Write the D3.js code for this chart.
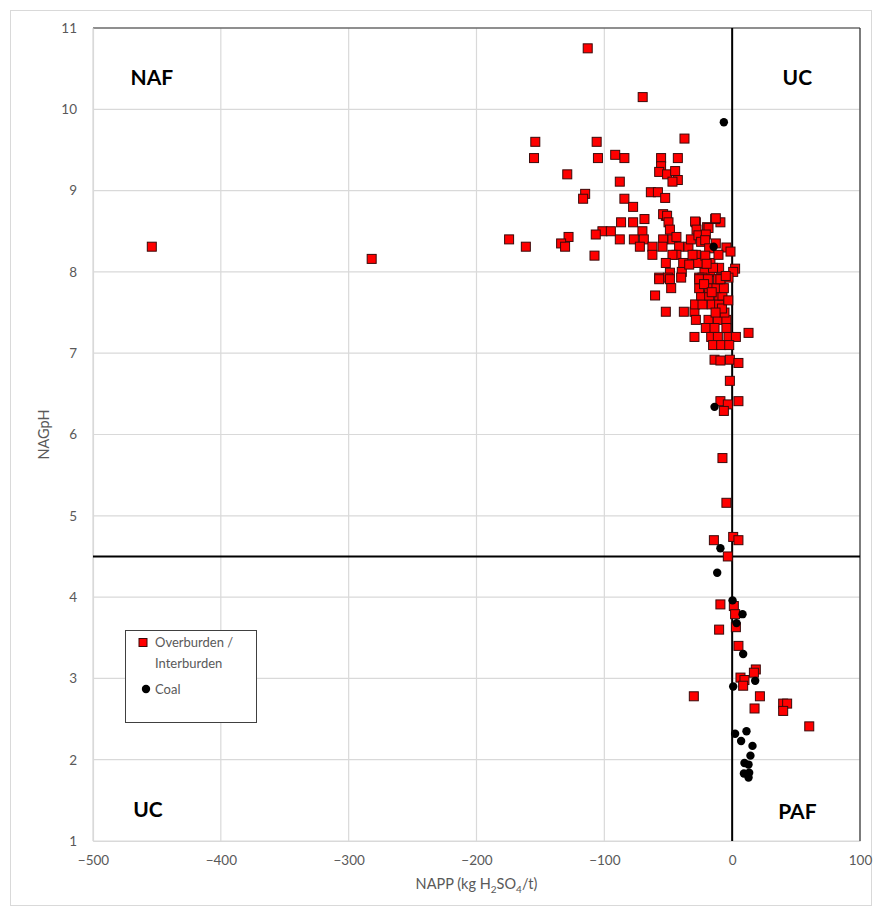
<!DOCTYPE html>
<html>
<head>
<meta charset="utf-8">
<script src="https://cdn.jsdelivr.net/npm/d3@7"></script>
<style>
  html, body { margin: 0; padding: 0; background: #fff; }
  svg { display: block; font-family: Lato, "Open Sans", sans-serif; }
</style>
</head>
<body>
<svg id="chart" width="882" height="916"></svg>
<script>
// ---- Data ----
const xTicks = [-500, -400, -300, -200, -100, 0, 100];
const yTicks = [1, 2, 3, 4, 5, 6, 7, 8, 9, 10, 11];
const seriesNames = ["Overburden /", "Interburden", "Coal"];
const quadrantLabels = ["NAF", "UC", "UC", "PAF"];

// Overburden / Interburden: NAPP (kg H2SO4/t)
const obNapp = [
  -454, -282, -113, -70,
  -154, -155, -106, -105, -91.5, -84.3, -37.3,
  -129, -87.9, -55.6, -42.5, -55.6, -57.1, -50.9, -44.6, -42.5, -46.7,
  -115, -116.6, -63.6, -58.1, -52.4, -84.3, -77.5,
  -68.6, -86.9, -77.5, -51.9,
  -70.2, -69.1, -76.9, -87.9, -72.2,
  -101.5, -94.9, -106.7, -128, -133.8, -130.7, -107.7,
  -174.5, -161.4,
  -28.4, -19.6, -9.2, -13.3,
  -62.4, -62.4, -54, -54.5, -54, -50.9, -49.8, -48.7,
  -46.7, -43.6, -41.5, -43.6, -46.7, -51.9, -48.7, -39.4, -38.3,
  -34.2, -32.3, -29, -27.9, -26.4, -24.3, -28.4, -26.8, -31,
  -18.5, -20.6, -21.1, -12.8, -12.8, -18, -17,
  -4.5, -1.3, -10.7, -10.2, -17, -21.7, 2.3, 0.8,
  -57.1, -50.3, -39.9, -25.8, -23.2, -8.6, -2.9, -33.6,
  -57.1, -48.7, -47.7, -60.3, -51.9, -37.8, -29.5, -28.4, -29.5,
  -29, -23.2, -15.9, -10.2,
  -24.3, -18, -10.2, -7.6,
  -25.8, -18, -12.3, -6.5,
  -25.8, -19, -11.2, -9.2,
  -18.5, -11.2, -4.5,
  -20.6, -13.8, -4.5,
  -16.4, -11.2, -2.9, 2.9,
  -14.9, -8.6, -2.3,
  -13.8, -1.8, 4.9, -9.2,
  12.8,
  -21, -15, -6, -8, -13, -22, -16, -20, -5, -3,
  -1.8, -9.2, -3.4, -6.5, 4.9,
  -7.6, -4.5, -14.3, 0.8, 4.9, -3.4,
  -9.2, 1.3, 2.3, 2.9, -10.2, 4.9,
  18.5, 17, 6.5, 9.6, 8.6, -30, 21.7, 39.9, 43, 39.9, 17.5, 60.3
];
// Overburden / Interburden: NAGpH
const obNag = [
  8.31, 8.16, 10.75, 10.15,
  9.60, 9.40, 9.60, 9.40, 9.44, 9.40, 9.64,
  9.20, 9.11, 9.40, 9.40, 9.30, 9.23, 9.20, 9.24, 9.13, 9.11,
  8.96, 8.90, 8.98, 8.98, 8.91, 8.90, 8.80,
  8.65, 8.61, 8.61, 8.69,
  8.50, 8.40, 8.40, 8.40, 8.31,
  8.50, 8.50, 8.46, 8.43, 8.35, 8.31, 8.20,
  8.40, 8.31,
  8.61, 8.55, 8.61, 8.65,
  8.31, 8.21, 8.40, 8.31, 8.71, 8.69, 8.61, 8.52,
  8.40, 8.43, 8.31, 8.21, 8.21, 8.11, 7.99, 8.00, 8.11,
  8.31, 8.40, 8.62, 8.52, 8.45, 8.37, 8.21, 8.11, 8.21,
  8.54, 8.46, 8.39, 8.66, 8.35, 8.29, 8.11,
  8.30, 8.25, 8.21, 8.05, 8.00, 7.99, 8.04, 8.00,
  7.93, 7.93, 7.93, 7.93, 7.93, 7.93, 7.93, 8.09,
  7.91, 7.91, 7.80, 7.71, 7.51, 7.51, 7.51, 7.41, 7.20,
  7.60, 7.60, 7.60, 7.60,
  7.71, 7.71, 7.71, 7.71,
  7.80, 7.80, 7.80, 7.80,
  7.91, 7.91, 7.91, 7.91,
  7.41, 7.41, 7.41,
  7.31, 7.31, 7.31,
  7.20, 7.20, 7.20, 7.20,
  7.10, 7.10, 7.10,
  6.92, 6.92, 6.88, 6.91,
  7.25,
  8.20, 8.05, 7.50, 7.55, 7.50, 7.85, 7.75, 8.10, 7.95, 7.65,
  6.66, 6.41, 6.37, 6.29, 6.41,
  5.71, 5.16, 4.70, 4.74, 4.70, 4.50,
  3.91, 3.89, 3.79, 3.63, 3.60, 3.40,
  3.11, 3.07, 3.01, 2.98, 2.91, 2.78, 2.78, 2.69, 2.69, 2.60, 2.63, 2.41
];

// Coal
const coalNapp = [-6.5, -14.5, -13.8, -9.2, -11.7, 0.3, 8.1, 3.4, 8.6, 18, 0.8,
  2.3, 11.2, 7, 15.9, 14.3, 9.6, 12.8, 9.2, 13.3, 12.8];
const coalNag = [9.84, 8.31, 6.34, 4.60, 4.30, 3.96, 3.79, 3.68, 3.30, 2.97, 2.90,
  2.32, 2.35, 2.23, 2.17, 2.05, 1.96, 1.94, 1.83, 1.84, 1.78];

const nagThreshold = 4.5;
const nappThreshold = 0;

// ---- Layout ----
const svg = d3.select("#chart");
const W = 882, H = 916;
const plot = { left: 93, right: 860, top: 28, bottom: 841 };

const x = d3.scaleLinear().domain([-500, 100]).range([plot.left, plot.right]);
const y = d3.scaleLinear().domain([1, 11]).range([plot.bottom, plot.top]);

// outer chart border
svg.append("rect")
  .attr("x", 10.5).attr("y", 10.5).attr("width", W - 21).attr("height", H - 21)
  .attr("fill", "#fff").attr("stroke", "#d9d9d9");

// gridlines
const grid = svg.append("g");
grid.selectAll("line.gx").data(xTicks).join("line")
  .attr("x1", d => x(d)).attr("x2", d => x(d))
  .attr("y1", plot.top).attr("y2", plot.bottom)
  .attr("stroke", "#d9d9d9").attr("stroke-width", 1.2);
grid.selectAll("line.gy").data(yTicks).join("line")
  .attr("y1", d => y(d)).attr("y2", d => y(d))
  .attr("x1", plot.left).attr("x2", plot.right)
  .attr("stroke", "#d9d9d9").attr("stroke-width", 1.2);

// plot frame: top & right dark
svg.append("line").attr("x1", plot.left).attr("x2", plot.right)
  .attr("y1", plot.top).attr("y2", plot.top).attr("stroke", "#333").attr("stroke-width", 1.2);
svg.append("line").attr("x1", plot.right).attr("x2", plot.right)
  .attr("y1", plot.top).attr("y2", plot.bottom).attr("stroke", "#333").attr("stroke-width", 1.2);

// axes (labels only)
const xAxis = svg.append("g")
  .attr("transform", `translate(0,${plot.bottom})`)
  .call(d3.axisBottom(x).tickValues(xTicks).tickSize(0).tickPadding(14).tickFormat(d3.format("d")));
const yAxis = svg.append("g")
  .attr("transform", `translate(${plot.left},0)`)
  .call(d3.axisLeft(y).tickValues(yTicks).tickSize(0).tickPadding(16).tickFormat(d3.format("d")));
[xAxis, yAxis].forEach(a => {
  a.select(".domain").attr("stroke", "#d9d9d9").attr("stroke-width", 1.2);
  a.selectAll("text").attr("fill", "#595959").attr("font-size", 13.5)
    .attr("font-family", "Lato, 'Open Sans', sans-serif");
});

// threshold lines
svg.append("line")
  .attr("x1", x(nappThreshold)).attr("x2", x(nappThreshold))
  .attr("y1", plot.top).attr("y2", plot.bottom)
  .attr("stroke", "#000").attr("stroke-width", 2);
svg.append("line")
  .attr("x1", plot.left).attr("x2", plot.right)
  .attr("y1", y(nagThreshold)).attr("y2", y(nagThreshold))
  .attr("stroke", "#000").attr("stroke-width", 2);

// quadrant labels
const ql = [
  { t: quadrantLabels[0], xv: -454, yv: 10.40 },
  { t: quadrantLabels[1], xv: 51, yv: 10.40 },
  { t: quadrantLabels[2], xv: -457, yv: 1.4 },
  { t: quadrantLabels[3], xv: 51, yv: 1.38 }
];
svg.selectAll("text.ql").data(ql).join("text")
  .attr("class", "ql")
  .attr("x", d => x(d.xv)).attr("y", d => y(d.yv))
  .attr("text-anchor", "middle").attr("dominant-baseline", "central")
  .attr("font-size", 21).attr("font-weight", "bold").attr("fill", "#000")
  .attr("font-family", "Lato, 'Open Sans', sans-serif")
  .text(d => d.t);

// points
const obData = obNapp.map((v, i) => [v, obNag[i]]);
const coalData = coalNapp.map((v, i) => [v, coalNag[i]]);
const sq = 9;
svg.append("g").selectAll("rect").data(obData).join("rect")
  .attr("x", d => x(d[0]) - sq / 2).attr("y", d => y(d[1]) - sq / 2)
  .attr("width", sq).attr("height", sq)
  .attr("fill", "#ff0000").attr("stroke", "#3a0a0a").attr("stroke-width", 1);
svg.append("g").selectAll("circle").data(coalData).join("circle")
  .attr("cx", d => x(d[0])).attr("cy", d => y(d[1]))
  .attr("r", 4.2).attr("fill", "#000");

// axis titles
const xt = svg.append("text")
  .attr("x", (plot.left + plot.right) / 2).attr("y", 889)
  .attr("text-anchor", "middle").attr("font-size", 14.5).attr("fill", "#595959");
xt.append("tspan").text("NAPP (kg H");
xt.append("tspan").attr("font-size", 10).attr("dy", 4).text("2");
xt.append("tspan").attr("dy", -4).text("SO");
xt.append("tspan").attr("font-size", 10).attr("dy", 4).text("4");
xt.append("tspan").attr("dy", -4).text("/t)");

svg.append("text")
  .attr("transform", `translate(49,${(plot.top + plot.bottom) / 2}) rotate(-90)`)
  .attr("text-anchor", "middle").attr("font-size", 14.5).attr("fill", "#595959")
  .text("NAGpH");

// legend
const lg = svg.append("g").attr("transform", "translate(125,630)");
lg.append("rect").attr("x", 0.5).attr("y", 0.5).attr("width", 131).attr("height", 92)
  .attr("fill", "#fff").attr("stroke", "#404040").attr("stroke-width", 1);
lg.append("rect").attr("x", 14).attr("y", 8.5).attr("width", 8).attr("height", 8)
  .attr("fill", "#ff0000").attr("stroke", "#3a0a0a").attr("stroke-width", 1);
lg.append("text").attr("x", 30).attr("y", 17).attr("font-size", 13).attr("fill", "#595959").text(seriesNames[0]);
lg.append("text").attr("x", 30).attr("y", 38).attr("font-size", 13).attr("fill", "#595959").text(seriesNames[1]);
lg.append("circle").attr("cx", 21).attr("cy", 59).attr("r", 4.2).attr("fill", "#000");
lg.append("text").attr("x", 30).attr("y", 64).attr("font-size", 13).attr("fill", "#595959").text(seriesNames[2]);
</script>
</body>
</html>
